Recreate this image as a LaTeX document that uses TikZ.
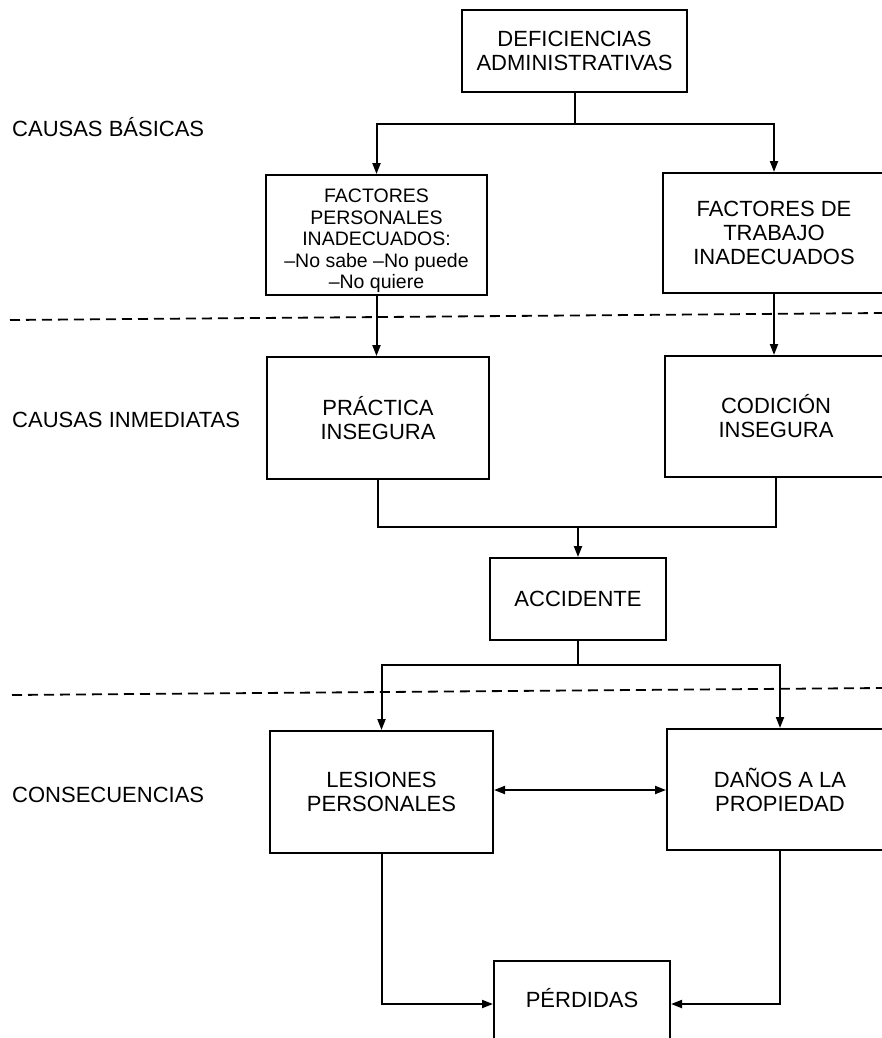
\documentclass[tikz,border=0pt]{standalone}
\usepackage{fontspec}
\setmainfont{Liberation Sans}
\usetikzlibrary{arrows.meta}
\begin{document}
\begin{tikzpicture}[x=1pt,y=-1pt,
  box/.style={draw, line width=2pt, rectangle, inner sep=0pt, align=center, font=\fontsize{22}{24}\selectfont},
  lbl/.style={anchor=west, inner sep=0pt, font=\fontsize{22}{24}\selectfont},
  conn/.style={line width=2pt},
  arr/.style={conn, -{Triangle[length=11pt,width=8pt]}},
  dbl/.style={conn, {Triangle[length=11pt,width=8pt]}-{Triangle[length=11pt,width=8pt]}},
  sep/.style={line width=1.8pt, dash pattern=on 10pt off 6pt}]
\useasboundingbox (0,0) rectangle (882,1038);
\clip (0,0) rectangle (882,1038);

% separators
\draw[sep] (10,320) -- (882,313);
\draw[sep] (12,695) -- (882,688);

% side labels
\node[lbl] (cb) at (12,127) {CAUSAS BÁSICAS};
\node[lbl] (ci) at (12,420) {CAUSAS INMEDIATAS};
\node[lbl] (cs) at (12,795) {CONSECUENCIAS};

% boxes
\node[box, minimum width=225, minimum height=82] (def) at (574.5,51) {DEFICIENCIAS\\ADMINISTRATIVAS};
\node[box, minimum width=221, minimum height=120, font=\fontsize{19.5}{21.5}\selectfont] (fp) at (376.5,235) {\rule{0pt}{26pt}FACTORES\\PERSONALES\\INADECUADOS:\\–No sabe –No puede\\–No quiere};
\node[box, minimum width=222, minimum height=120] (ft) at (774,233) {FACTORES DE\\TRABAJO\\INADECUADOS};
\node[box, minimum width=222, minimum height=122] (pr) at (378,418) {PRÁCTICA\\INSEGURA};
\node[box, minimum width=222, minimum height=121] (co) at (776,416.5) {CODICIÓN\\INSEGURA};
\node[box, minimum width=176, minimum height=82] (ac) at (578,599) {ACCIDENTE};
\node[box, minimum width=223, minimum height=122] (le) at (381.5,792) {LESIONES\\PERSONALES};
\node[box, minimum width=226, minimum height=121] (da) at (780,789.5) {DAÑOS A LA\\PROPIEDAD};
\node[box, minimum width=176, anchor=north, text height=46pt, text depth=40pt] (pe) at (582,960) {PÉRDIDAS};

% connectors
\coordinate (b1) at (574.5,124);
\draw[conn] (def.south) -- (b1);
\draw[arr] (b1) -| (fp.north);
\draw[arr] (b1) -| (ft.north);
\draw[arr] (fp.south) -- (fp.south |- pr.north);
\draw[arr] (ft.south) -- (ft.south |- co.north);

\coordinate (b2) at (578,527);
\draw[conn] (pr.south) |- (co.south |- b2) -- (co.south);
\draw[arr] (b2) -- (ac.north);

\coordinate (b3) at (578,665);
\draw[conn] (ac.south) -- (b3);
\draw[arr] (b3) -| (le.north);
\draw[arr] (b3) -| (da.north);

\draw[dbl] (le.east |- 0,790) -- (da.west |- 0,790);

\draw[arr] (le.south) |- (pe.west);
\draw[arr] (da.south) |- (pe.east);
\end{tikzpicture}
\end{document}
